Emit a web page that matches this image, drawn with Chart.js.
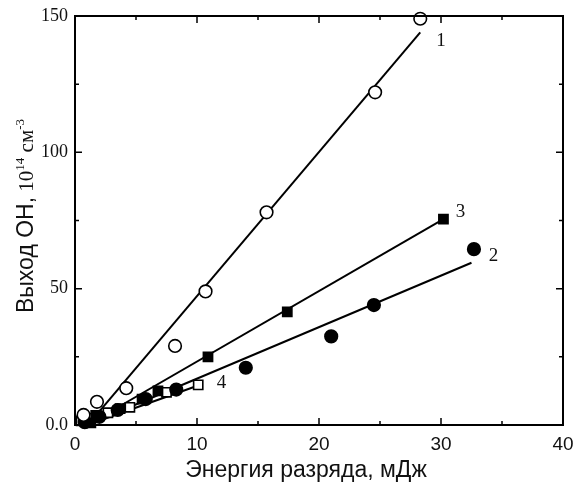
<!DOCTYPE html>
<html lang="ru">
<head>
    <meta charset="UTF-8">
    <title>Выход OH</title>
    <script src="https://cdn.jsdelivr.net/npm/chart.js"></script>
    <style>
        body { margin: 0; background: #fff; }
        #wrap { width: 576px; height: 485px; }
    </style>
</head>
<body>
<div id="wrap"><canvas id="myChart"></canvas></div>
<script>
    // series 1 - open circles
    const s1x = [0.7, 1.8, 4.2, 8.2, 10.7, 15.7, 24.6, 28.3];
    const s1y = [3.7, 8.5, 13.5, 29, 49, 78, 122, 149];
    // series 2 - filled circles
    const s2x = [0.8, 2.0, 3.5, 5.8, 8.3, 14.0, 21.0, 24.5, 32.7];
    const s2y = [1.0, 3.0, 5.5, 9.5, 13.0, 21.0, 32.5, 44.0, 64.5];
    // series 3 - filled squares
    const s3x = [1.3, 1.7, 3.7, 5.5, 6.8, 10.9, 17.4, 30.2];
    const s3y = [0.8, 3.5, 6.0, 9.5, 12.5, 25.0, 41.5, 75.5];
    // series 4 - open squares
    const s4x = [0.5, 1.0, 2.7, 4.5, 7.5, 10.1];
    const s4y = [1.5, 2.5, 4.5, 6.5, 12.0, 14.7];

    // fit lines (end points)
    const fit1x = [1.2, 28.3], fit1y = [0.8, 144];
    const fit2x = [1.0, 32.5], fit2y = [0.0, 59.5];
    const fit3x = [1.0, 30.2], fit3y = [0.0, 75.5];
    const fit4x = [1.0, 10.1], fit4y = [0.0, 14.5];

    const curveLabels = ['1', '2', '3', '4'];
    const labelX = [30.0, 34.3, 31.6, 12.0];
    const labelY = [141, 62, 78, 15.5];

    const xTicks = [0, 10, 20, 30, 40];
    const yTicks = [0, 50, 100, 150];

    const xTitle = 'Энергия разряда, мДж';

    function pts(xs, ys) {
        return xs.map((x, i) => ({ x: x, y: ys[i] }));
    }

    function marks(xs, ys, style, fill) {
        return {
            data: pts(xs, ys), showLine: false, order: 0,
            pointStyle: style,
            pointRadius: style === 'rect' ? 6.5 : 6.3,
            pointBackgroundColor: fill, pointBorderColor: '#000',
            pointBorderWidth: 1.6
        };
    }

    function fitLine(xs, ys) {
        return {
            data: pts(xs, ys), showLine: true, order: 1,
            borderColor: '#000', borderWidth: 2, pointRadius: 0
        };
    }

    // frame, inward ticks, curve numbers, axis titles
    const decor = {
        id: 'decor',
        afterDraw(chart) {
            const ctx = chart.ctx;
            const xs = chart.scales.x, ys = chart.scales.y;
            const a = chart.chartArea;
            ctx.save();
            ctx.strokeStyle = '#000';
            ctx.lineWidth = 2;
            ctx.strokeRect(a.left, a.top, a.right - a.left, a.bottom - a.top);
            ctx.lineWidth = 1.5;
            for (let v = 5; v < 40; v += 5) {
                const p = xs.getPixelForValue(v);
                const len = v % 10 === 0 ? 7 : 4;
                ctx.beginPath();
                ctx.moveTo(p, a.bottom); ctx.lineTo(p, a.bottom - len);
                ctx.moveTo(p, a.top); ctx.lineTo(p, a.top + len);
                ctx.stroke();
            }
            for (let v = 25; v < 150; v += 25) {
                const p = ys.getPixelForValue(v);
                const len = v % 50 === 0 ? 7 : 4;
                ctx.beginPath();
                ctx.moveTo(a.left, p); ctx.lineTo(a.left + len, p);
                ctx.moveTo(a.right, p); ctx.lineTo(a.right - len, p);
                ctx.stroke();
            }
            ctx.fillStyle = '#111';
            ctx.font = '19px "Liberation Serif"';
            ctx.textAlign = 'center';
            ctx.textBaseline = 'middle';
            curveLabels.forEach((t, i) => {
                ctx.fillText(t, xs.getPixelForValue(labelX[i]), ys.getPixelForValue(labelY[i]));
            });

            // x axis title
            ctx.font = '23px "Liberation Sans"';
            ctx.fillText(xTitle, 306, 471);

            // y axis title with superscripts
            ctx.translate(33, 216);
            ctx.rotate(-Math.PI / 2);
            ctx.textAlign = 'left';
            ctx.textBaseline = 'alphabetic';
            const sans = '23px "Liberation Sans"', serif = '21px "Liberation Serif"', small = '13px "Liberation Serif"';
            const parts = [['Выход OH,', sans, 0], [' 10', serif, 0], ['14', small, -9], [' см', serif, 0], ['-3', small, -9]];
            let w = 0;
            parts.forEach(p => { ctx.font = p[1]; w += ctx.measureText(p[0]).width; });
            let cx = -w / 2;
            parts.forEach(p => {
                ctx.font = p[1];
                ctx.fillText(p[0], cx, p[2]);
                cx += ctx.measureText(p[0]).width;
            });
            ctx.restore();
        }
    };

    const ctx = document.getElementById('myChart').getContext('2d');
    new Chart(ctx, {
        type: 'scatter',
        data: {
            datasets: [
                marks(s1x, s1y, 'circle', '#fff'),
                marks(s2x, s2y, 'circle', '#000'),
                marks(s3x, s3y, 'rect', '#000'),
                marks(s4x, s4y, 'rect', '#fff'),
                fitLine(fit1x, fit1y),
                fitLine(fit2x, fit2y),
                fitLine(fit3x, fit3y),
                fitLine(fit4x, fit4y)
            ]
        },
        options: {
            responsive: true,
            maintainAspectRatio: false,
            animation: false,
            clip: false,
            layout: { padding: { top: 16, right: 13, left: 0, bottom: 0 } },
            plugins: { legend: { display: false }, tooltip: { enabled: false } },
            scales: {
                x: {
                    type: 'linear', min: 0, max: 40,
                    afterFit(s) { s.height = 60; s.paddingLeft = 0; s.paddingRight = 0; },
                    afterBuildTicks(s) { s.ticks = xTicks.map(v => ({ value: v })); },
                    grid: { display: false, drawTicks: false },
                    border: { display: false },
                    ticks: { color: '#111', padding: 8, maxRotation: 0, font: { family: 'Liberation Sans', size: 19 } }
                },
                y: {
                    type: 'linear', min: 0, max: 150,
                    afterFit(s) { s.width = 75; s.paddingTop = 0; s.paddingBottom = 0; },
                    afterBuildTicks(s) { s.ticks = yTicks.map(v => ({ value: v })); },
                    grid: { display: false, drawTicks: false },
                    border: { display: false },
                    ticks: {
                        color: '#111', padding: 7,
                        font: { family: 'Liberation Serif', size: 18 },
                        callback: v => v === 0 ? '0.0' : String(v)
                    }
                }
            }
        },
        plugins: [decor]
    });
</script>
</body>
</html>
